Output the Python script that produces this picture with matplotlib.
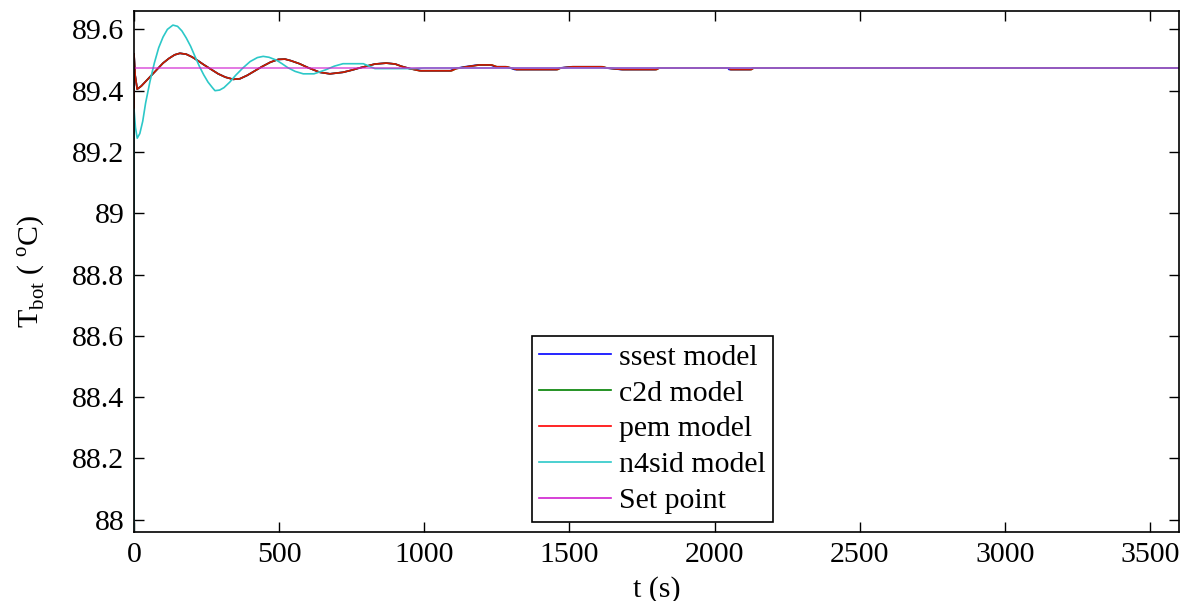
import numpy as np
import matplotlib
matplotlib.use('Agg')
import matplotlib.pyplot as plt

# time response of the bottom temperature
set_point = 89.474

pem_t = [0, 0, 4, 11, 25, 40, 60, 80, 100, 120, 140, 158, 180, 200, 220, 240, 265,
         290, 315, 342, 365, 390, 415, 440, 470, 497, 520, 540, 570, 600, 640, 675,
         720, 750, 780, 830, 869, 900, 920, 950, 984, 1094, 1110, 1146, 1190, 1232,
         1250, 1283, 1300, 1318, 1459, 1470, 1511, 1614, 1630, 1683, 1800, 1810,
         2051, 2055, 2127, 2135, 3600]
pem_y = [87.9, 89.52, 89.45, 89.405, 89.415, 89.43, 89.45, 89.47, 89.49, 89.505,
         89.517, 89.522, 89.519, 89.51, 89.498, 89.485, 89.47, 89.455, 89.444, 89.437,
         89.439, 89.45, 89.464, 89.478, 89.493, 89.502, 89.503, 89.498, 89.488, 89.475,
         89.46, 89.455, 89.46, 89.467, 89.475, 89.487, 89.49, 89.487, 89.48, 89.472,
         89.465, 89.465, 89.472, 89.478, 89.484, 89.484, 89.478, 89.478, 89.474,
         89.469, 89.469, 89.474, 89.478, 89.478, 89.474, 89.469, 89.469, 89.474,
         89.474, 89.469, 89.469, 89.474, 89.474]

# ssest and c2d responses lie on top of the pem curve
ssest_t = [0, 0, 4, 11, 25, 40, 60, 80, 100, 120, 140, 158, 180, 200, 220, 240, 265,
           290, 315, 342, 365, 390, 415, 440, 470, 497, 520, 540, 570, 600, 640, 675,
           720, 750, 780, 830, 869, 900, 920, 950, 990, 1090, 1105, 1140, 1185, 1228,
           1246, 1280, 1296, 1312, 1455, 1466, 1506, 1610, 1626, 1678, 1796, 1806,
           2046, 2050, 2123, 2131, 3600]
ssest_y = pem_y
c2d_t = pem_t
c2d_y = pem_y

n4sid_t = [0, 0, 5, 11, 20, 30, 40, 55, 70, 85, 100, 115, 134, 150, 165, 180, 195,
           210, 225, 240, 255, 270, 279, 295, 310, 330, 350, 375, 400, 425, 445, 465,
           490, 510, 530, 555, 583, 620, 660, 690, 720, 790, 810, 830, 960, 1000, 3600]
n4sid_y = [87.9, 89.34, 89.28, 89.245, 89.26, 89.30, 89.36, 89.43, 89.49, 89.54,
           89.575, 89.60, 89.614, 89.61, 89.595, 89.572, 89.545, 89.512, 89.48, 89.452,
           89.428, 89.41, 89.40, 89.402, 89.41, 89.428, 89.45, 89.474, 89.495, 89.508,
           89.512, 89.509, 89.50, 89.488, 89.475, 89.463, 89.455, 89.455, 89.468,
           89.48, 89.488, 89.488, 89.48, 89.472, 89.472, 89.474, 89.474]

sp_t = [0, 3600]
sp_y = [set_point, set_point]

x_ticks = [0, 500, 1000, 1500, 2000, 2500, 3000, 3500]
y_ticks = [88, 88.2, 88.4, 88.6, 88.8, 89, 89.2, 89.4, 89.6]


def setup_style():
    plt.rcParams['font.family'] = ['Liberation Serif', 'DejaVu Serif']
    plt.rcParams['mathtext.fontset'] = 'custom'
    plt.rcParams['mathtext.rm'] = 'Liberation Serif'
    plt.rcParams['font.size'] = 21.5


def plot_results():
    fig = plt.figure(figsize=(11.88, 6.01), dpi=100)
    ax = fig.add_axes([0.1128, 0.1148, 0.8796, 0.8669])

    ax.plot(ssest_t, ssest_y, color='#0000ff', lw=1.2, label='ssest model')
    ax.plot(c2d_t, c2d_y, color='#008000', lw=1.2, label='c2d model')
    ax.plot(pem_t, pem_y, color='#ff0000', lw=1.2, alpha=0.8, label='pem model')
    ax.plot(n4sid_t, n4sid_y, color='#2cc8c8', lw=1.2, label='n4sid model')
    ax.plot(sp_t, sp_y, color='#d020d0', lw=1.4, alpha=0.6, label='Set point')

    ax.set_xlim(0, 3600)
    ax.set_ylim(87.96, 89.66)
    ax.set_xticks(x_ticks)
    ax.set_yticks(y_ticks)
    ax.yaxis.set_major_formatter(plt.FuncFormatter(lambda v, p: f'{v:g}'))
    ax.tick_params(direction='in', length=7, width=1, top=True, right=True, pad=7)
    for s in ax.spines.values():
        s.set_linewidth(1.2)

    ax.set_xlabel('t (s)', labelpad=6)
    ax.set_ylabel(r'T$_\mathrm{bot}$ ( $^\mathrm{o}$C)', labelpad=18)

    leg = ax.legend(loc='lower left', bbox_to_anchor=(0.3705, 0.0), fancybox=False,
                    edgecolor='black', framealpha=1, handlelength=2.4,
                    borderpad=0.25, labelspacing=0.3, handletextpad=0.27,
                    borderaxespad=0.35, fontsize=21.5)
    leg.get_frame().set_linewidth(1.2)
    for h in leg.get_lines():
        h.set_alpha(1)
        h.set_linewidth(1.2)

    fig.savefig('out.png', dpi=100)


def main():
    setup_style()
    plot_results()


if __name__ == "__main__":
    main()
